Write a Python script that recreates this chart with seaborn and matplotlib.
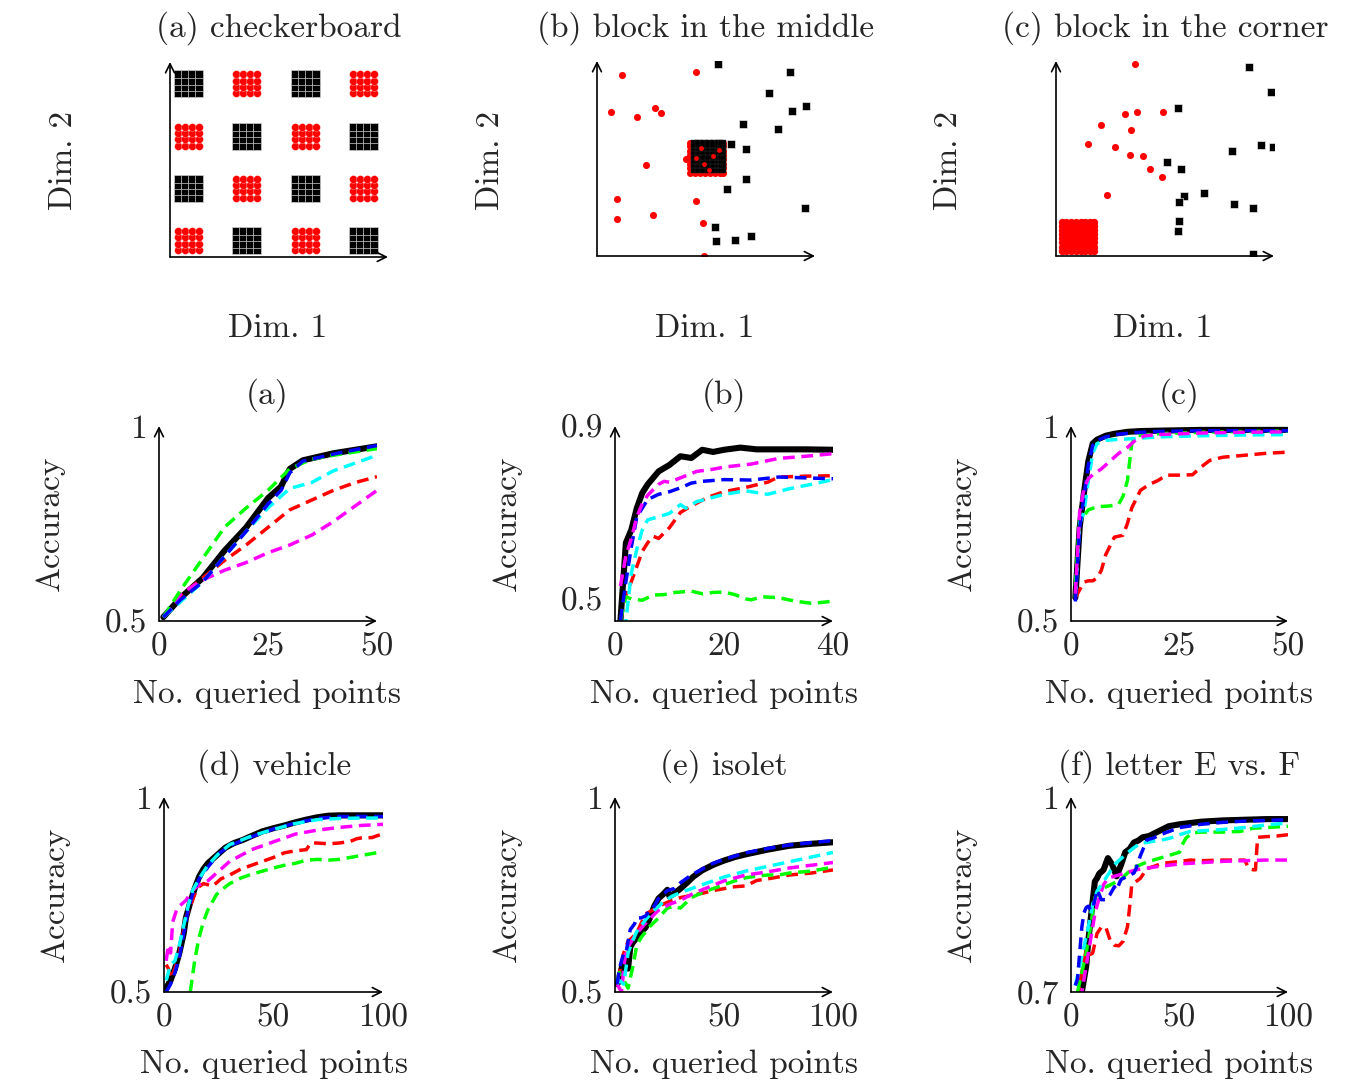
import numpy as np
import pandas as pd
import matplotlib
matplotlib.use("Agg")
import matplotlib.pyplot as plt
import seaborn as sns

sns.set_style("white")
plt.rcParams['font.family'] = ['cmr10', 'DejaVu Serif']
plt.rcParams['mathtext.fontset'] = 'cm'
plt.rcParams['axes.unicode_minus'] = False
plt.rcParams['axes.formatter.use_mathtext'] = True

# ---------------- data: toy datasets ----------------
# checkerboard: block origins and in-block offsets
cb_block_origin = [0.145, 1.215, 2.285, 3.355]
cb_offsets = [0.0, 0.13, 0.26, 0.39]

# block in the middle
mid_red_x = [0.45, 1.81, 0.25, 0.74, 1.07, 1.18, 0.89, 1.64, 0.36, 1.82, 0.37, 1.02, 1.94, 1.96]
mid_red_y = [3.71, 3.77, 2.95, 2.85, 3.04, 2.93, 1.87, 1.98, 1.17, 1.13, 0.75, 0.85, 0.67, 0.0]
mid_blk_x = [2.22, 3.54, 3.16, 3.83, 3.57, 2.68, 3.33, 2.45, 2.73, 2.73, 2.38, 3.82, 2.17, 2.19, 2.54, 2.82]
mid_blk_y = [3.93, 3.77, 3.34, 3.08, 2.97, 2.71, 2.60, 2.30, 2.20, 1.57, 1.38, 0.98, 0.60, 0.31, 0.33, 0.41]
mid_block_red_grid = [1.71, 1.80, 1.89, 1.98, 2.07, 2.16, 2.25, 2.31]
mid_block_blk_grid = [1.79, 1.88, 1.97, 2.06, 2.15, 2.24, 2.29]
mid_block_red_top_x = [1.82, 2.13, 1.96, 2.24, 2.05, 1.90]
mid_block_red_top_y = [2.02, 2.06, 1.88, 2.18, 1.76, 2.22]

# block in the corner
cor_red_x = [1.45, 0.83, 1.27, 1.48, 1.97, 1.37, 0.59, 1.09, 1.35, 1.59, 1.72, 1.94, 0.94]
cor_red_y = [3.93, 2.69, 2.92, 2.96, 2.95, 2.58, 2.29, 2.24, 2.08, 2.05, 1.78, 1.62, 1.26]
cor_blk_x = [3.55, 3.95, 2.24, 2.03, 2.29, 3.23, 3.77, 3.98, 2.34, 2.25, 2.71, 3.26, 3.62, 2.25, 2.24, 3.62]
cor_blk_y = [3.88, 3.36, 3.04, 1.92, 1.79, 2.16, 2.27, 2.23, 1.23, 1.10, 1.30, 1.06, 0.99, 0.72, 0.51, 0.05]
cor_block_grid = [0.11, 0.19, 0.28, 0.37, 0.45, 0.54, 0.62, 0.70]

# ---------------- data: learning curves ----------------
colors = {"black": "#000000", "red": "#ff0000", "green": "#00ff00",
          "magenta": "#ff00ff", "cyan": "#00ffff", "blue": "#0000ff"}

# (a) checkerboard
a_black_x = [1, 5, 10, 15, 20, 25, 28, 30, 33, 40, 50]
a_black_y = [0.51, 0.56, 0.61, 0.68, 0.74, 0.815, 0.845, 0.89, 0.912, 0.93, 0.948]
a_green_x = [1, 5, 10, 15, 20, 25, 30, 35, 40, 50]
a_green_y = [0.51, 0.58, 0.66, 0.74, 0.79, 0.835, 0.89, 0.915, 0.925, 0.942]
a_blue_x = [1, 5, 10, 15, 20, 25, 28, 30, 33, 40, 50]
a_blue_y = [0.51, 0.555, 0.60, 0.665, 0.73, 0.80, 0.835, 0.88, 0.91, 0.928, 0.95]
a_cyan_x = [1, 5, 10, 15, 20, 25, 30, 35, 40, 45, 50]
a_cyan_y = [0.51, 0.55, 0.60, 0.665, 0.73, 0.79, 0.84, 0.855, 0.885, 0.905, 0.925]
a_red_x = [1, 5, 10, 15, 20, 25, 30, 35, 40, 45, 50]
a_red_y = [0.51, 0.565, 0.61, 0.655, 0.695, 0.74, 0.785, 0.81, 0.835, 0.855, 0.87]
a_mag_x = [1, 5, 10, 15, 20, 25, 30, 35, 40, 45, 50]
a_mag_y = [0.51, 0.57, 0.605, 0.63, 0.65, 0.675, 0.695, 0.72, 0.755, 0.795, 0.835]

# (b) block in the middle
b_black_x = [1, 2, 3, 4, 5, 6, 8, 10, 12, 14, 16, 18, 20, 23, 26, 30, 35, 40]
b_black_y = [0.45, 0.63, 0.66, 0.71, 0.745, 0.765, 0.795, 0.81, 0.83, 0.826, 0.845, 0.84, 0.845, 0.85, 0.846, 0.846, 0.846, 0.845]
b_mag_x = [1, 2, 3, 4, 5, 6, 8, 9, 10, 12, 15, 18, 20, 25, 30, 35, 40]
b_mag_y = [0.53, 0.60, 0.64, 0.69, 0.72, 0.74, 0.765, 0.772, 0.77, 0.78, 0.795, 0.80, 0.805, 0.812, 0.825, 0.83, 0.836]
b_blue_x = [1, 2, 3, 4, 5, 6, 8, 10, 12, 14, 16, 20, 25, 30, 35, 40]
b_blue_y = [0.45, 0.54, 0.62, 0.69, 0.71, 0.73, 0.742, 0.748, 0.757, 0.768, 0.772, 0.776, 0.775, 0.782, 0.78, 0.778]
b_cyan_x = [1, 2, 3, 4, 5, 6, 8, 10, 12, 13, 15, 18, 20, 24, 28, 32, 36, 40]
b_cyan_y = [0.43, 0.45, 0.56, 0.615, 0.66, 0.683, 0.69, 0.698, 0.718, 0.71, 0.725, 0.735, 0.742, 0.75, 0.742, 0.755, 0.765, 0.776]
b_red_x = [1, 2, 3, 4, 5, 6, 7, 8, 10, 12, 14, 17, 20, 24, 28, 30, 35, 40]
b_red_y = [0.45, 0.51, 0.54, 0.575, 0.61, 0.63, 0.645, 0.64, 0.665, 0.70, 0.715, 0.735, 0.748, 0.758, 0.77, 0.782, 0.784, 0.785]
b_green_x = [1, 2, 3, 5, 7, 9, 11, 14, 16, 18, 20, 22, 24, 25, 27, 30, 33, 36, 38, 40]
b_green_y = [0.45, 0.505, 0.50, 0.497, 0.509, 0.51, 0.515, 0.518, 0.512, 0.515, 0.516, 0.51, 0.50, 0.498, 0.505, 0.503, 0.495, 0.49, 0.492, 0.495]

# (c) block in the corner
c_black_x = [1, 2, 3, 4, 5, 6, 8, 10, 13, 16, 20, 30, 40, 50]
c_black_y = [0.56, 0.74, 0.83, 0.91, 0.955, 0.965, 0.975, 0.98, 0.985, 0.987, 0.988, 0.99, 0.99, 0.99]
c_blue_x = [1, 2, 3, 4, 5, 6, 8, 10, 15, 20, 30, 40, 50]
c_blue_y = [0.55, 0.74, 0.82, 0.90, 0.95, 0.963, 0.972, 0.978, 0.983, 0.986, 0.988, 0.988, 0.988]
c_cyan_x = [1, 2, 3, 4, 5, 6, 8, 10, 15, 20, 30, 40, 50]
c_cyan_y = [0.56, 0.75, 0.78, 0.86, 0.93, 0.955, 0.963, 0.965, 0.968, 0.972, 0.975, 0.977, 0.978]
c_mag_x = [1, 2, 3, 4, 5, 7, 9, 11, 13, 15, 17, 20, 30, 40, 50]
c_mag_y = [0.57, 0.78, 0.84, 0.865, 0.875, 0.89, 0.91, 0.93, 0.945, 0.965, 0.975, 0.978, 0.982, 0.984, 0.985]
c_green_x = [1, 2, 3, 4, 6, 9, 11, 12, 13, 14, 15, 20, 30, 40, 50]
c_green_y = [0.59, 0.755, 0.77, 0.785, 0.793, 0.795, 0.80, 0.82, 0.86, 0.955, 0.975, 0.98, 0.984, 0.986, 0.987]
c_red_x = [1, 2, 3, 4, 5, 6, 7, 8, 10, 12, 13, 14, 16, 18, 20, 22, 25, 28, 30, 32, 35, 40, 45, 50]
c_red_y = [0.56, 0.58, 0.60, 0.603, 0.603, 0.61, 0.63, 0.67, 0.715, 0.72, 0.75, 0.79, 0.835, 0.85, 0.86, 0.874, 0.874, 0.875, 0.895, 0.912, 0.92, 0.925, 0.93, 0.933]

# (d) vehicle
d_black_x = [1, 3, 5, 7, 9, 10, 12, 14, 16, 18, 20, 24, 28, 32, 36, 40, 45, 50, 55, 60, 65, 70, 75, 80, 90, 100]
d_black_y = [0.51, 0.53, 0.56, 0.60, 0.65, 0.69, 0.73, 0.765, 0.795, 0.815, 0.83, 0.85, 0.87, 0.882, 0.89, 0.90, 0.912, 0.92, 0.927, 0.935, 0.942, 0.948, 0.952, 0.953, 0.953, 0.953]
d_blue_x = [1, 3, 5, 7, 9, 11, 13, 16, 20, 25, 30, 40, 50, 60, 70, 80, 90, 100]
d_blue_y = [0.50, 0.52, 0.55, 0.59, 0.65, 0.71, 0.75, 0.79, 0.82, 0.855, 0.875, 0.898, 0.918, 0.933, 0.945, 0.95, 0.95, 0.95]
d_cyan_x = [1, 3, 5, 7, 9, 11, 13, 16, 20, 25, 30, 40, 50, 60, 70, 80, 90, 100]
d_cyan_y = [0.53, 0.57, 0.58, 0.62, 0.67, 0.72, 0.76, 0.79, 0.825, 0.855, 0.878, 0.90, 0.917, 0.932, 0.942, 0.945, 0.946, 0.946]
d_mag_x = [1, 2, 3, 4, 6, 8, 10, 13, 16, 20, 25, 30, 35, 40, 50, 60, 70, 80, 90, 100]
d_mag_y = [0.58, 0.62, 0.60, 0.68, 0.715, 0.725, 0.735, 0.76, 0.775, 0.785, 0.81, 0.835, 0.85, 0.865, 0.885, 0.905, 0.915, 0.922, 0.927, 0.93]
d_red_x = [1, 2, 3, 5, 7, 9, 10, 12, 14, 16, 18, 20, 22, 24, 26, 30, 35, 40, 45, 50, 55, 60, 65, 67, 70, 75, 80, 85, 88, 90, 95, 100]
d_red_y = [0.57, 0.56, 0.535, 0.56, 0.60, 0.66, 0.69, 0.72, 0.75, 0.77, 0.778, 0.775, 0.771, 0.78, 0.79, 0.80, 0.815, 0.825, 0.835, 0.845, 0.857, 0.862, 0.865, 0.882, 0.882, 0.88, 0.882, 0.886, 0.893, 0.895, 0.896, 0.906]
d_green_x = [1, 3, 6, 9, 11, 12, 14, 16, 18, 20, 22, 24, 27, 30, 35, 40, 45, 50, 55, 60, 65, 70, 75, 80, 90, 100]
d_green_y = [0.50, 0.46, 0.44, 0.45, 0.48, 0.50, 0.58, 0.64, 0.68, 0.71, 0.73, 0.75, 0.765, 0.778, 0.792, 0.802, 0.81, 0.818, 0.825, 0.83, 0.838, 0.84, 0.838, 0.84, 0.85, 0.86]

# (e) isolet
e_black_x = [1, 2, 3, 4, 5, 6, 7, 8, 10, 12, 14, 16, 18, 20, 22, 24, 25, 27, 30, 33, 36, 40, 45, 50, 55, 60, 70, 80, 90, 100]
e_black_y = [0.52, 0.53, 0.56, 0.58, 0.57, 0.56, 0.615, 0.625, 0.64, 0.655, 0.665, 0.69, 0.72, 0.74, 0.75, 0.762, 0.745, 0.752, 0.765, 0.78, 0.796, 0.812, 0.826, 0.837, 0.846, 0.853, 0.865, 0.875, 0.88, 0.884]
e_blue_x = [1, 2, 3, 4, 5, 7, 9, 10, 12, 14, 16, 18, 20, 24, 27, 30, 35, 40, 45, 50, 60, 70, 80, 90, 100]
e_blue_y = [0.52, 0.56, 0.58, 0.60, 0.60, 0.66, 0.675, 0.69, 0.69, 0.695, 0.71, 0.72, 0.74, 0.76, 0.765, 0.78, 0.80, 0.815, 0.83, 0.84, 0.857, 0.868, 0.877, 0.883, 0.888]
e_cyan_x = [1, 2, 4, 6, 8, 10, 14, 18, 22, 26, 30, 35, 40, 50, 60, 70, 80, 90, 100]
e_cyan_y = [0.52, 0.53, 0.52, 0.60, 0.63, 0.655, 0.685, 0.71, 0.73, 0.745, 0.755, 0.765, 0.775, 0.795, 0.81, 0.822, 0.834, 0.846, 0.858]
e_mag_x = [1, 2, 3, 4, 5, 7, 10, 13, 16, 20, 25, 30, 35, 40, 50, 60, 70, 80, 90, 100]
e_mag_y = [0.52, 0.51, 0.50, 0.56, 0.605, 0.625, 0.65, 0.67, 0.688, 0.71, 0.725, 0.735, 0.75, 0.762, 0.785, 0.80, 0.808, 0.818, 0.825, 0.832]
e_red_x = [1, 2, 4, 6, 8, 10, 14, 18, 22, 26, 30, 35, 40, 45, 50, 55, 60, 65, 70, 80, 90, 100]
e_red_y = [0.53, 0.55, 0.60, 0.63, 0.64, 0.652, 0.70, 0.712, 0.725, 0.735, 0.742, 0.748, 0.753, 0.76, 0.765, 0.77, 0.772, 0.786, 0.79, 0.80, 0.805, 0.813]
e_green_x = [1, 2, 4, 6, 8, 10, 12, 16, 20, 24, 27, 30, 35, 40, 45, 50, 55, 60, 65, 70, 75, 80, 90, 100]
e_green_y = [0.53, 0.55, 0.53, 0.51, 0.56, 0.62, 0.64, 0.668, 0.69, 0.715, 0.72, 0.715, 0.742, 0.755, 0.765, 0.775, 0.785, 0.793, 0.797, 0.80, 0.80, 0.805, 0.81, 0.82]

# (f) letter E vs. F
f_black_x = [4, 5, 6, 7, 8, 9, 10, 11, 12, 13, 15, 17, 19, 21, 23, 25, 27, 29, 31, 33, 36, 39, 42, 45, 50, 55, 60, 70, 80, 90, 100]
f_black_y = [0.68, 0.70, 0.72, 0.74, 0.78, 0.81, 0.84, 0.87, 0.875, 0.882, 0.888, 0.906, 0.896, 0.878, 0.895, 0.915, 0.92, 0.93, 0.933, 0.938, 0.94, 0.945, 0.95, 0.955, 0.958, 0.96, 0.962, 0.964, 0.965, 0.966, 0.966]
f_blue_x = [2, 3, 4, 5, 6, 7, 8, 9, 10, 12, 13, 14, 16, 18, 20, 21, 23, 26, 29, 30, 32, 35, 38, 42, 46, 50, 60, 70, 80, 90, 100]
f_blue_y = [0.71, 0.72, 0.76, 0.80, 0.822, 0.83, 0.832, 0.826, 0.828, 0.857, 0.85, 0.842, 0.842, 0.85, 0.862, 0.857, 0.873, 0.878, 0.883, 0.89, 0.91, 0.934, 0.937, 0.943, 0.948, 0.953, 0.958, 0.961, 0.963, 0.964, 0.965]
f_cyan_x = [2, 4, 6, 8, 10, 12, 14, 17, 20, 23, 26, 29, 32, 35, 38, 42, 46, 50, 55, 60, 70, 80, 90, 100]
f_cyan_y = [0.71, 0.74, 0.77, 0.80, 0.835, 0.855, 0.865, 0.88, 0.896, 0.905, 0.914, 0.922, 0.929, 0.93, 0.932, 0.934, 0.937, 0.942, 0.947, 0.948, 0.95, 0.953, 0.957, 0.96]
f_mag_x = [3, 5, 7, 9, 11, 13, 15, 17, 20, 25, 30, 40, 50, 60, 70, 80, 90, 100]
f_mag_y = [0.66, 0.70, 0.74, 0.78, 0.82, 0.845, 0.865, 0.875, 0.878, 0.883, 0.888, 0.893, 0.897, 0.899, 0.901, 0.902, 0.903, 0.903]
f_green_x = [3, 5, 7, 9, 11, 13, 15, 17, 20, 23, 26, 30, 35, 40, 45, 50, 51, 53, 56, 60, 70, 78, 84, 90, 100]
f_green_y = [0.70, 0.73, 0.76, 0.80, 0.845, 0.855, 0.86, 0.863, 0.868, 0.873, 0.883, 0.893, 0.90, 0.905, 0.91, 0.915, 0.925, 0.937, 0.945, 0.946, 0.946, 0.947, 0.952, 0.953, 0.955]
f_red_x = [3, 5, 7, 8, 9, 10, 12, 14, 16, 17, 18, 20, 22, 24, 26, 27, 28, 30, 32, 35, 38, 42, 48, 55, 60, 70, 80, 82, 84, 85, 86, 90, 95, 100]
f_red_y = [0.69, 0.73, 0.765, 0.762, 0.758, 0.76, 0.79, 0.80, 0.80, 0.79, 0.78, 0.772, 0.771, 0.778, 0.80, 0.83, 0.865, 0.87, 0.875, 0.89, 0.893, 0.898, 0.90, 0.903, 0.902, 0.903, 0.903, 0.89, 0.888, 0.888, 0.938, 0.939, 0.94, 0.942]

# ---------------- layout helpers ----------------
W, H = 1366, 1084
FS = 24
fig = plt.figure(figsize=(W / 100, H / 100), dpi=100)


def add_ax(left, right, top, bottom):
    return fig.add_axes([left / W, 1 - bottom / H, (right - left) / W, (bottom - top) / H])


def ftext(x, y, s, rot=0):
    fig.text(x / W, 1 - y / H, s, ha='center', va='center', rotation=rot, fontsize=FS)


def style_axes(ax):
    for sp in ax.spines.values():
        sp.set_visible(False)
    ax.annotate('', xy=(1.0, 0), xytext=(0, 0), xycoords='axes fraction',
                arrowprops=dict(arrowstyle='->', lw=1.2, color='black',
                                shrinkA=0, shrinkB=0, mutation_scale=16), zorder=10)
    ax.annotate('', xy=(0, 1.0), xytext=(0, 0), xycoords='axes fraction',
                arrowprops=dict(arrowstyle='->', lw=1.2, color='black',
                                shrinkA=0, shrinkB=0, mutation_scale=16), zorder=10)
    ax.tick_params(direction='inout', length=7, width=0.8, color='#9a9a9a',
                   labelsize=FS, pad=5)
    ax.set_facecolor('white')
    ax.grid(False)
    ax.set_xlabel('')
    ax.set_ylabel('')


# ---------------- top row: toy data ----------------
top_axes = [add_ax(170, 388, 62, 257), add_ax(597, 815, 61, 256), add_ax(1056, 1274, 61, 256)]

# checkerboard points
cb_rows = []
for ci, cx in enumerate(cb_block_origin):
    for ri, ry in enumerate(cb_block_origin):
        cls = 'red' if (ci + ri) % 2 == 0 else 'black'
        for ox in cb_offsets:
            for oy in cb_offsets:
                cb_rows.append((cx + ox, ry + oy, cls))
cb = pd.DataFrame(cb_rows, columns=['x', 'y', 'cls'])

ax = top_axes[0]
sns.scatterplot(data=cb[cb.cls == 'red'], x='x', y='y', ax=ax, color='#ff0000',
                marker='o', s=32, linewidth=0.2, edgecolor='white', legend=False)
sns.scatterplot(data=cb[cb.cls == 'black'], x='x', y='y', ax=ax, color='black',
                marker='s', s=36, linewidth=0.5, edgecolor='#cfcfcf', legend=False)

# block in the middle
ax = top_axes[1]
gx, gy = np.meshgrid(mid_block_red_grid, mid_block_red_grid)
sns.scatterplot(x=gx.ravel(), y=gy.ravel(), ax=ax, color='#ff0000', marker='o', s=26,
                linewidth=0, legend=False)
sns.scatterplot(x=mid_red_x, y=mid_red_y, ax=ax, color='#ff0000', marker='o', s=26,
                linewidth=0, legend=False)
bx, by = np.meshgrid(mid_block_blk_grid, mid_block_blk_grid)
sns.scatterplot(x=bx.ravel(), y=by.ravel(), ax=ax, color='black', marker='s', s=30,
                linewidth=0.3, edgecolor='#333333', legend=False)
sns.scatterplot(x=mid_block_red_top_x, y=mid_block_red_top_y, ax=ax, color='#ff0000',
                marker='o', s=12, linewidth=0, legend=False)
sns.scatterplot(x=mid_blk_x, y=mid_blk_y, ax=ax, color='black', marker='s', s=30,
                linewidth=0.4, edgecolor='white', legend=False)

# block in the corner
ax = top_axes[2]
kx, ky = np.meshgrid(cor_block_grid, cor_block_grid)
sns.scatterplot(x=kx.ravel(), y=ky.ravel(), ax=ax, color='#ff0000', marker='o', s=28,
                linewidth=0, legend=False)
sns.scatterplot(x=cor_red_x, y=cor_red_y, ax=ax, color='#ff0000', marker='o', s=26,
                linewidth=0, legend=False)
sns.scatterplot(x=cor_blk_x, y=cor_blk_y, ax=ax, color='black', marker='s', s=30,
                linewidth=0.4, edgecolor='white', legend=False)

for ax in top_axes:
    ax.set_xlim(0, 4)
    ax.set_ylim(0, 4)
    ax.set_xticks([0, 1, 2, 3, 4])
    ax.set_yticks([0, 1, 2, 3, 4])
    ax.set_xticklabels([])
    ax.set_yticklabels([])
    style_axes(ax)

ftext(279, 28, '(a) checkerboard')
ftext(706, 28, '(b) block in the middle')
ftext(1165, 28, '(c) block in the corner')
for xc in (278, 705, 1163):
    ftext(xc, 328, 'Dim. 1')
for xc in (63, 490, 948):
    ftext(xc, 160, 'Dim. 2', rot=90)

# ---------------- learning curves ----------------
panels = [
    dict(box=(159, 377, 426, 621), xlim=(0, 50), ylim=(0.5, 1.0), xt=[0, 25, 50], yt=[0.5, 1.0],
         ytl=['0.5', '1'], title='(a)', tpos=(267, 395), ylab=50, xlabpos=(267, 694),
         series=[('black', a_black_x, a_black_y), ('red', a_red_x, a_red_y), ('magenta', a_mag_x, a_mag_y),
                 ('green', a_green_x, a_green_y), ('cyan', a_cyan_x, a_cyan_y), ('blue', a_blue_x, a_blue_y)]),
    dict(box=(615, 833, 426, 621), xlim=(0, 40), ylim=(0.449, 0.9), xt=[0, 20, 40], yt=[0.5, 0.9],
         ytl=['0.5', '0.9'], title='(b)', tpos=(724, 395), ylab=507, xlabpos=(724, 694),
         series=[('black', b_black_x, b_black_y), ('red', b_red_x, b_red_y), ('green', b_green_x, b_green_y),
                 ('cyan', b_cyan_x, b_cyan_y), ('blue', b_blue_x, b_blue_y), ('magenta', b_mag_x, b_mag_y)]),
    dict(box=(1071, 1288, 426, 621), xlim=(0, 50), ylim=(0.5, 1.0), xt=[0, 25, 50], yt=[0.5, 1.0],
         ytl=['0.5', '1'], title='(c)', tpos=(1179, 395), ylab=962, xlabpos=(1179, 694),
         series=[('black', c_black_x, c_black_y), ('red', c_red_x, c_red_y), ('green', c_green_x, c_green_y),
                 ('cyan', c_cyan_x, c_cyan_y), ('blue', c_blue_x, c_blue_y), ('magenta', c_mag_x, c_mag_y)]),
    dict(box=(164, 383, 797, 992), xlim=(0, 100), ylim=(0.5, 1.0), xt=[0, 50, 100], yt=[0.5, 1.0],
         ytl=['0.5', '1'], title='(d) vehicle', tpos=(274, 766), ylab=55, xlabpos=(274, 1064),
         series=[('black', d_black_x, d_black_y), ('red', d_red_x, d_red_y), ('green', d_green_x, d_green_y),
                 ('magenta', d_mag_x, d_mag_y), ('blue', d_blue_x, d_blue_y), ('cyan', d_cyan_x, d_cyan_y)]),
    dict(box=(615, 833, 797, 992), xlim=(0, 100), ylim=(0.5, 1.0), xt=[0, 50, 100], yt=[0.5, 1.0],
         ytl=['0.5', '1'], title='(e) isolet', tpos=(724, 766), ylab=507, xlabpos=(724, 1064),
         series=[('black', e_black_x, e_black_y), ('red', e_red_x, e_red_y), ('green', e_green_x, e_green_y),
                 ('magenta', e_mag_x, e_mag_y), ('cyan', e_cyan_x, e_cyan_y), ('blue', e_blue_x, e_blue_y)]),
    dict(box=(1071, 1288, 797, 992), xlim=(0, 100), ylim=(0.7, 1.0), xt=[0, 50, 100], yt=[0.7, 1.0],
         ytl=['0.7', '1'], title='(f) letter E vs. F', tpos=(1179, 766), ylab=962, xlabpos=(1179, 1064),
         series=[('black', f_black_x, f_black_y), ('red', f_red_x, f_red_y), ('green', f_green_x, f_green_y),
                 ('magenta', f_mag_x, f_mag_y), ('cyan', f_cyan_x, f_cyan_y), ('blue', f_blue_x, f_blue_y)]),
]

for p in panels:
    l, r, t, b = p['box']
    ax = add_ax(l, r, t, b)
    for name, xs, ys in p['series']:
        if name == 'black':
            sns.lineplot(x=xs, y=ys, ax=ax, color=colors[name], lw=4.4, linestyle='-',
                         solid_joinstyle='round', solid_capstyle='round')
        else:
            line = sns.lineplot(x=xs, y=ys, ax=ax, color=colors[name], lw=2.5)
            line.get_lines()[-1].set_dashes((3.4, 1.9))
    ax.set_xlim(*p['xlim'])
    ax.set_ylim(*p['ylim'])
    ax.set_xticks(p['xt'])
    ax.set_xticklabels([str(v) for v in p['xt']])
    ax.set_yticks(p['yt'])
    ax.set_yticklabels(p['ytl'])
    style_axes(ax)
    ftext(p['tpos'][0], p['tpos'][1], p['title'])
    ftext(p['ylab'], (t + b) / 2, 'Accuracy', rot=90)
    ftext(p['xlabpos'][0], p['xlabpos'][1], 'No. queried points')

fig.savefig('out.png', dpi=100, facecolor='white')
